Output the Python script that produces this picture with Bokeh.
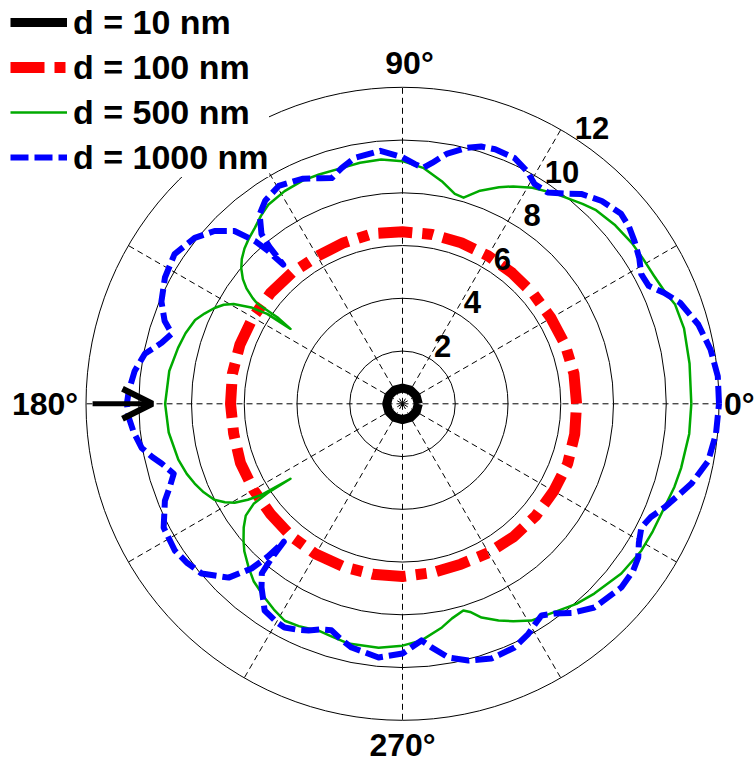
import numpy as np
from bokeh.plotting import figure
from bokeh.models import Range1d, Legend, LegendItem, Arrow, OpenHead
from bokeh.core.properties import value
from bokeh.embed import file_html
from bokeh.resources import INLINE

# ---- data: polar response (angle in degrees, radius) for each thickness ----
theta_10nm = [0, 30, 60, 90, 120, 150, 180, 210, 240, 270, 300, 330, 360]
r_10nm = [0.6, 0.6, 0.6, 0.6, 0.6, 0.6, 0.6, 0.6, 0.6, 0.6, 0.6, 0.6, 0.6]

theta_100nm = [0, 10, 20, 30, 40, 50, 60, 70, 80, 90, 100, 110, 120, 130, 140, 150, 160, 170, 180,
               190, 200, 210, 220, 230, 240, 250, 260, 270, 280, 290, 300, 310, 320, 330, 340, 350, 360]
r_100nm = [6.6, 6.6, 6.56, 6.5, 6.48, 6.47, 6.48, 6.5, 6.52, 6.52, 6.55, 6.5, 6.46, 6.5, 6.53, 6.55, 6.56,
           6.55, 6.52, 6.5, 6.54, 6.52, 6.52, 6.56, 6.58, 6.57, 6.56, 6.55, 6.5, 6.47, 6.52, 6.57, 6.6,
           6.62, 6.66, 6.63, 6.6]

theta_500nm = [0, 8, 15, 20, 23, 27, 31, 35, 40, 45, 48, 54, 59, 63, 66, 70, 73.5, 76, 80, 85, 90, 95,
               100, 105, 110, 114, 119, 124, 127, 130, 133, 135.5, 138, 140, 142, 143.5, 144.8, 145.4,
               145.35, 146.2, 146.4, 147.5, 149.4, 151, 153, 155.5, 158, 162, 166, 172, 180,
               187, 194, 198, 201, 204, 207, 209, 210.5, 211.8, 212.8, 213.8, 213.5, 213.9, 215.5,
               217.9, 220.7, 223, 226.8, 230, 234.6, 238, 241.5, 245, 249.7, 253, 257.3, 264.4, 270,
               274.6, 280, 283, 286.4, 288, 290.3, 293.9, 297, 300.7, 307, 311, 315.3, 322.2, 328.4,
               333, 338.4, 343, 347, 354, 360]
r_500nm = [10.95, 10.99, 11.05, 11.0, 10.82, 10.7, 10.65, 10.62, 10.53, 10.38, 10.2, 9.85, 9.56, 9.25,
           8.99, 8.6, 8.15, 8.2, 8.57, 8.98, 9.2, 9.3, 9.28, 9.23, 9.25, 9.27, 9.22, 9.1, 8.92, 8.71,
           8.55, 8.4, 8.2, 7.98, 7.68, 7.36, 6.95, 6.68, 5.77, 5.11, 6.16, 6.8, 7.44, 7.75, 8.0, 8.25,
           8.48, 8.65, 8.77, 8.93, 9.0,
           8.93, 8.76, 8.6, 8.44, 8.25, 8.01, 7.7, 7.39, 6.9, 6.4, 5.11, 6.13, 6.8, 7.3,
           7.63, 7.95, 8.2, 8.52, 8.78, 9.02, 9.2, 9.36, 9.3, 9.17, 9.22, 9.32, 9.29, 9.17,
           9.0, 8.61, 8.35, 8.17, 8.3, 8.64, 8.99, 9.25, 9.56, 9.82, 10.05, 10.23, 10.5, 10.63,
           10.65, 10.68, 10.78, 10.84, 10.93, 10.95]

theta_1000nm = [0, 5, 10, 15, 20, 23, 25.6, 28.5, 31.6, 35, 38, 41, 45.5, 49.6, 52.5, 55.5, 59, 61.8,
                65.5, 70, 73, 76, 80, 83, 85, 87, 90, 95, 101, 104.5, 107.4, 110, 114, 119.6, 124,
                127, 129.7, 130.3, 130.6, 131.3, 132.2, 134.2, 137.4, 141.4, 146.7, 152, 157, 160.8,
                163.1, 165.8, 169, 173, 177.3, 180,
                182.9, 186, 189.6, 192, 194, 197, 199.5, 202.2, 207.4, 212.8, 216.5, 220.2, 225,
                227.5, 228.6, 229.3, 229.7, 230.3, 232.5, 236.3, 240, 242.2, 245, 247.5, 250, 252.6,
                255, 258.2, 264.6, 270, 272.5, 274.6, 276.8, 280.3, 284.4, 289.2, 294.7, 298.7, 301,
                303.3, 305.9, 309, 313.3, 320, 324, 326.9, 329.5, 332.6, 335.5, 338.4, 341.5, 344.5,
                349.4, 354.5, 360]
r_1000nm = [12.0, 12.0, 11.86, 11.61, 11.2, 10.77, 10.35, 10.3, 10.54, 10.74, 10.9, 10.98, 10.78,
            10.45, 10.05, 9.72, 9.72, 10.0, 10.24, 10.27, 10.2, 10.0, 9.62, 9.2, 8.98, 9.1, 9.35,
            9.63, 9.5, 9.23, 8.97, 9.1, 9.34, 9.5, 9.3, 9.0, 8.37, 7.8, 6.95, 7.7, 8.34, 9.14, 9.68,
            10.08, 10.34, 10.2, 9.93, 9.55, 9.14, 9.42, 9.95, 10.23, 10.39, 10.45,
            10.39, 10.25, 10.03, 9.7, 9.4, 9.07, 9.35, 9.73, 10.2, 10.27, 10.15, 9.97, 9.32,
            8.47, 7.73, 6.9, 7.7, 8.35, 8.78, 9.42, 9.55, 9.59, 9.45, 9.3, 9.1, 9.0,
            9.2, 9.44, 9.66, 9.47, 9.2, 9.0, 9.3, 9.78, 10.05, 10.23, 10.17, 9.94, 9.75,
            9.6, 9.82, 10.2, 10.61, 10.83, 10.8, 10.67, 10.4, 10.2, 10.35, 10.68, 11.0, 11.36,
            11.79, 11.94, 12.0]

series_labels = ["d = 10 nm", "d = 100 nm", "d = 500 nm", "d = 1000 nm"]

ring_values = [2, 4, 6, 8, 10, 12]
ring_labels = ["2", "4", "6", "8", "10", "12"]
spoke_angles = [0, 30, 60, 90, 120, 150, 180, 210, 240, 270, 300, 330]
angle_ticks = [0, 90, 180, 270]
angle_tick_labels = ["0°", "90°", "180°", "270°"]

# arrow marking the 180° direction (radius of tail and tip)
arrow_angle = 180
arrow_r = [11.75, 9.48]

# ---- geometry of the canvas ----
W, H = 756, 763
CX, CY = 402.0, 403.3          # pixel position of the pole
PX = 316.5 / 12.0              # pixels per radial unit
R_MAX = 12

def to_xy(theta_deg, r):
    t = np.radians(np.asarray(theta_deg, dtype=float))
    rr = np.asarray(r, dtype=float)
    return rr * np.cos(t), rr * np.sin(t)

p = figure(width=W, height=H,
           x_range=Range1d(-CX / PX, (W - CX) / PX),
           y_range=Range1d(-(H - CY) / PX, CY / PX),
           x_axis_type=None, y_axis_type=None,
           output_backend="svg", toolbar_location=None, min_border=0)
p.grid.visible = False
p.outline_line_color = None
p.background_fill_color = "white"
p.border_fill_color = "white"

FONT = value("Liberation Sans")

# polar grid: rings and dashed spokes
p.circle(x=[0] * len(ring_values), y=[0] * len(ring_values), radius=ring_values,
         fill_color=None, line_color="black", line_width=1)
sx, sy = to_xy(spoke_angles, [R_MAX] * len(spoke_angles))
p.segment(x0=[0] * len(spoke_angles), y0=[0] * len(spoke_angles), x1=sx, y1=sy,
          line_color="black", line_width=1, line_dash="6 4")

# curves
x, y = to_xy(theta_10nm, r_10nm)
l10 = p.line(x, y, line_color="black", line_width=9, line_join="round")

x, y = to_xy(theta_100nm, r_100nm)
l100 = p.line(x, y, line_color="#FF0000", line_width=11, line_dash="34 10 11 10",
              line_cap="butt", line_join="round")

x, y = to_xy(theta_500nm, r_500nm)
l500 = p.line(x, y, line_color="#00AA00", line_width=2.5, line_join="round")

x, y = to_xy(theta_1000nm, r_1000nm)
l1000 = p.line(x, y, line_color="#0000FF", line_width=6, line_dash="18 6",
               line_cap="butt", line_join="round")

# radial tick labels along 55.5°
lx, ly = to_xy([55.5] * len(ring_values), [v + 0.68 for v in ring_values])
p.text(x=lx, y=ly, text=ring_labels, text_font=FONT, text_font_size="31px",
       text_font_style="bold", text_align="center", text_baseline="middle", text_color="black")

# angle labels
ax_r = {0: 12.19, 90: 12.93, 180: 12.3, 270: 12.93}
ax_align = {0: "left", 90: "center", 180: "right", 270: "center"}
ax_dx = {0: 0, 90: 7, 180: 0, 270: 0}
for ang, lab in zip(angle_ticks, angle_tick_labels):
    tx, ty = to_xy([ang], [ax_r[ang]])
    p.text(x=tx, y=ty, text=[lab], text_font=FONT, text_font_size="32px",
           text_font_style="bold", text_align=ax_align[ang], text_baseline="middle",
           text_color="black", x_offset=ax_dx[ang])

# arrow pointing at the 180° lobe
(ax0, ax1), (ay0, ay1) = to_xy([arrow_angle, arrow_angle], arrow_r)
p.add_layout(Arrow(x_start=ax0, y_start=ay0, x_end=ax1, y_end=ay1,
                   line_color="black", line_width=5,
                   end=OpenHead(size=30, line_width=6, line_color="black")))

# legend in the upper-left corner
legend = Legend(items=[LegendItem(label=series_labels[0], renderers=[l10]),
                       LegendItem(label=series_labels[1], renderers=[l100]),
                       LegendItem(label=series_labels[2], renderers=[l500]),
                       LegendItem(label=series_labels[3], renderers=[l1000])],
                location=(10, H - 177), margin=0, padding=4, spacing=5,
                glyph_width=57, glyph_height=40, label_height=40, label_standoff=6,
                label_text_font="Liberation Sans", label_text_font_size="34px",
                label_text_font_style="bold", label_text_color="black",
                border_line_color=None, background_fill_color="white", background_fill_alpha=1.0)
p.add_layout(legend)

open("out.html", "w").write(file_html(p, INLINE))
